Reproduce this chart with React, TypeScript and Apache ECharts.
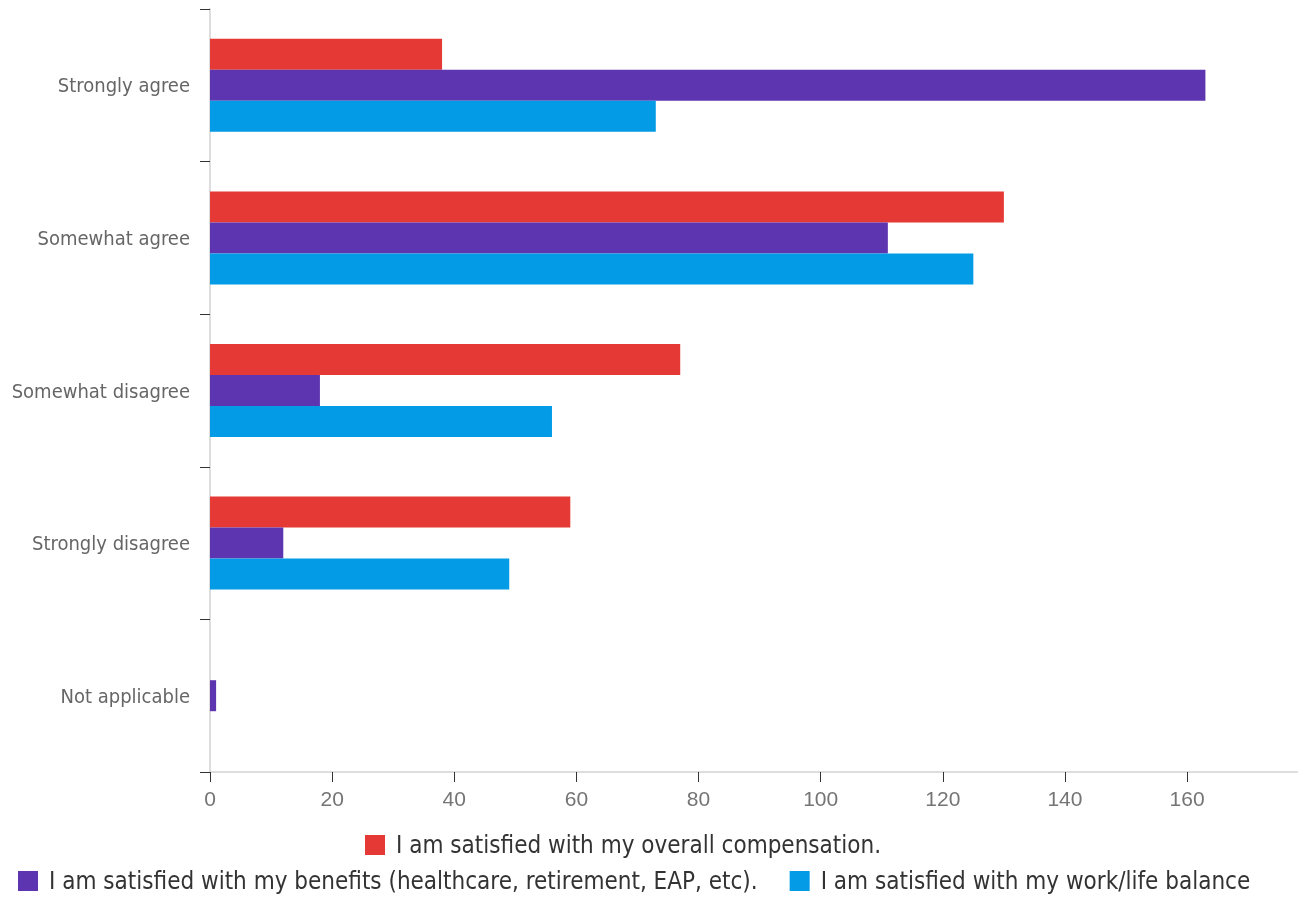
import React, { useEffect, useRef } from 'react';
import * as echarts from 'echarts';

const categories = ['Strongly agree', 'Somewhat agree', 'Somewhat disagree', 'Strongly disagree', 'Not applicable'];
const seriesNames = [
  'I am satisfied with my overall compensation.',
  'I am satisfied with my benefits (healthcare, retirement, EAP, etc).',
  'I am satisfied with my work/life balance',
];
const compensation = [38, 130, 77, 59, 0];
const benefits = [163, 111, 18, 12, 1];
const workLife = [73, 125, 56, 49, 0];
const xTicks = [0, 20, 40, 60, 80, 100, 120, 140, 160];
const colors = ['#E53935', '#5E35B1', '#039BE5'];

const NARROW = '"Liberation Sans Narrow", "DejaVu Sans Condensed", sans-serif';
const REGULAR = '"Liberation Sans", Arial, sans-serif';

export default function App() {
  const ref = useRef<HTMLDivElement>(null);
  useEffect(() => {
    if (!ref.current) return;
    const chart = echarts.init(ref.current, undefined, { renderer: 'svg' });
    const values = [compensation, benefits, workLife];
    const legendText = { fontSize: 24, color: '#333', fontFamily: NARROW, padding: [0, 0, 0, 6] };
    chart.setOption({
      animation: false,
      color: colors,
      textStyle: { fontFamily: NARROW },
      grid: { left: 210, right: 1, top: 9, bottom: 127, containLabel: false, outerBoundsMode: 'none' },
      xAxis: {
        type: 'value',
        min: 0,
        max: 178,
        axisLine: { show: true, lineStyle: { color: '#dddddd', width: 2 } },
        axisTick: { show: true, length: 10, lineStyle: { color: '#333' }, customValues: xTicks },
        axisLabel: { color: '#757575', fontSize: 21, margin: 16, fontFamily: REGULAR, customValues: xTicks },
        splitLine: { show: false },
      },
      yAxis: {
        type: 'category',
        inverse: true,
        data: categories,
        axisLine: { show: true, lineStyle: { color: '#dddddd', width: 2 } },
        axisTick: { show: true, length: 10, alignWithLabel: false, lineStyle: { color: '#333' } },
        axisLabel: { color: '#666666', fontSize: 20, margin: 20, fontFamily: NARROW },
      },
      legend: [
        {
          data: [seriesNames[0]],
          left: 365,
          top: 833,
          padding: 0,
          icon: 'rect',
          itemWidth: 20,
          itemHeight: 20,
          itemGap: 6,
          textStyle: legendText,
        },
        {
          data: [seriesNames[1], seriesNames[2]],
          left: 18,
          top: 869,
          padding: 0,
          icon: 'rect',
          itemWidth: 20,
          itemHeight: 20,
          itemGap: 32,
          textStyle: legendText,
        },
      ],
      series: seriesNames.map((name, i) => ({
        name,
        type: 'bar',
        data: values[i],
        barWidth: 31,
        barGap: '0%',
        itemStyle: { color: colors[i] },
      })),
    });
    return () => chart.dispose();
  }, []);
  return <div ref={ref} style={{ position: 'fixed', left: 0, top: 0, width: 1298, height: 899 }} />;
}
